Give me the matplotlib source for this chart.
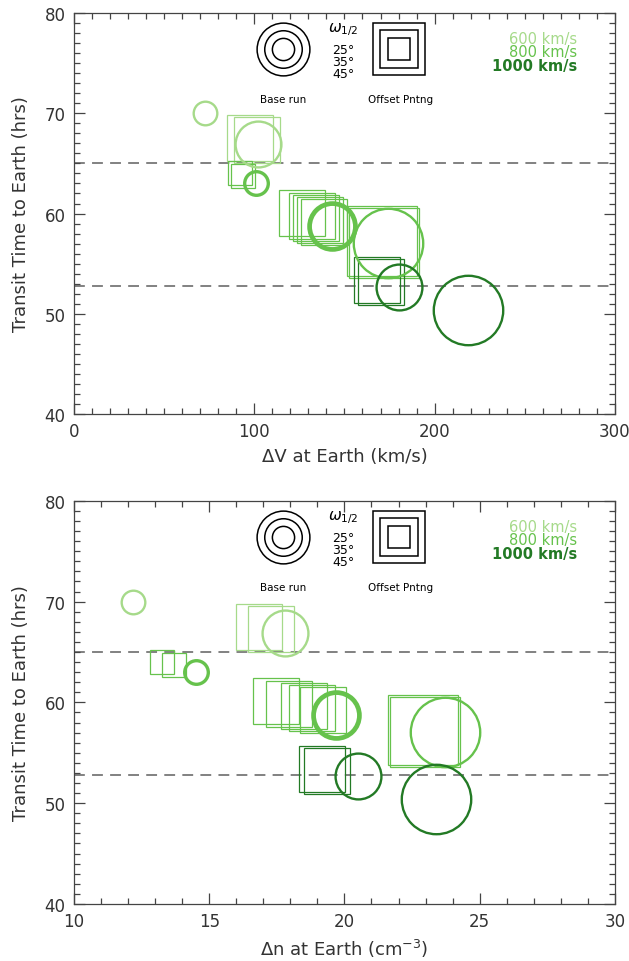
import numpy as np
import matplotlib
matplotlib.use("Agg")
import matplotlib.pyplot as plt
from matplotlib.ticker import MultipleLocator

plt.rcParams['font.family'] = ['DejaVu Sans']

# base runs (circles)
base_speed = [600, 600, 800, 800, 800, 1000, 1000]
base_omega = [25, 35, 25, 35, 45, 35, 45]
base_dv = [72.7, 102.0, 101.0, 143.0, 174.0, 180.0, 218.5]
base_dn = [12.2, 17.8, 14.5, 19.7, 23.7, 20.5, 23.4]
base_tt = [70.0, 66.9, 63.0, 58.8, 57.1, 52.7, 50.4]

# offset pointing runs (squares)
off_speed = [600, 600, 800, 800, 800, 800, 800, 800, 800, 800, 800, 1000, 1000]
off_omega = [35, 35, 25, 25, 35, 35, 35, 35, 35, 45, 45, 35, 35]
off_dv = [97.8, 101.5, 92.0, 94.0, 126.5, 131.8, 134.1, 136.4, 138.7, 170.8, 172.0, 168.0, 170.0]
off_dn = [16.83, 17.28, 13.26, 13.7, 17.46, 17.96, 18.5, 18.8, 19.2, 22.89, 22.98, 19.17, 19.35]
off_tt = [67.5, 67.3, 64.0, 63.7, 60.1, 59.8, 59.6, 59.4, 59.2, 57.3, 57.1, 53.4, 53.2]

ref_times = [65.0, 52.8]
speed_labels = ['600 km/s', '800 km/s', '1000 km/s']
omega_labels = ['25°', '35°', '45°']

colors = {600: '#a6da8a', 800: '#66c24c', 1000: '#237a25'}
msize = {25: 17, 35: 33, 45: 50}
txt_col = '#333333'

fig = plt.figure(figsize=(6.29, 9.62), dpi=100)
ax1 = fig.add_axes([0.1176, 0.5686, 0.860, 0.4168])
ax2 = fig.add_axes([0.1176, 0.0593, 0.860, 0.419])


def draw_panel(ax, xb, xo):
    for t in ref_times:
        ax.axhline(t, color='#777777', lw=1.3, ls=(0, (6, 4)), zorder=1)
    for x, t, s, w in zip(xo, off_tt, off_speed, off_omega):
        ax.plot(x, t, marker='s', ms=msize[w], mfc='none', mec=colors[s], mew=0.9, zorder=2)
    for x, t, s, w in zip(xb, base_tt, base_speed, base_omega):
        mew = 1.7
        if s == 800 and w == 35:
            mew = 3.4
        elif s == 800 and w == 25:
            mew = 2.4
        ax.plot(x, t, marker='o', ms=msize[w], mfc='none', mec=colors[s], mew=mew, zorder=3)

    ax.set_ylim(40, 80)
    ax.yaxis.set_major_locator(MultipleLocator(10))
    ax.yaxis.set_minor_locator(MultipleLocator(1))
    ax.tick_params(which='both', direction='in', top=True, right=True, colors='#444444',
                   labelcolor=txt_col, labelsize=12, width=0.9)
    ax.tick_params(which='major', length=8, pad=6)
    ax.tick_params(which='minor', length=4)
    for sp in ax.spines.values():
        sp.set_color('#444444')
        sp.set_linewidth(0.9)
    ax.set_ylabel('Transit Time to Earth (hrs)', fontsize=13, color=txt_col)
    ax.yaxis.set_label_coords(-0.082, 0.5)

    # legend: size key
    tr = ax.transAxes
    for ms in [38, 27, 16]:
        ax.plot(0.386, 0.910, marker='o', ms=ms, mfc='none', mec='black', mew=1.1,
                transform=tr, clip_on=False)
        ax.plot(0.601, 0.910, marker='s', ms=ms, mfc='none', mec='black', mew=1.1,
                transform=tr, clip_on=False)
    ax.text(0.498, 0.962, r'$\omega_{1/2}$', transform=tr, ha='center', va='center',
            fontsize=11)
    for lbl, fy in zip(omega_labels, [0.910, 0.880, 0.850]):
        ax.text(0.498, fy, lbl, transform=tr, ha='center', va='center', fontsize=9)
    ax.text(0.386, 0.786, 'Base run', transform=tr, ha='center', va='center', fontsize=7.5)
    ax.text(0.603, 0.786, 'Offset Pntng', transform=tr, ha='center', va='center', fontsize=7.5)
    for lbl, s, fy in zip(speed_labels, [600, 800, 1000], [0.937, 0.903, 0.869]):
        ax.text(0.930, fy, lbl, transform=tr, ha='right', va='center', fontsize=10.5,
                color=colors[s], fontweight='bold' if s == 1000 else 'normal')


draw_panel(ax1, base_dv, off_dv)
ax1.set_xlim(0, 300)
ax1.xaxis.set_major_locator(MultipleLocator(100))
ax1.xaxis.set_minor_locator(MultipleLocator(10))
ax1.set_xlabel('ΔV at Earth (km/s)', fontsize=13, color=txt_col, labelpad=5)

draw_panel(ax2, base_dn, off_dn)
ax2.set_xlim(10, 30)
ax2.xaxis.set_major_locator(MultipleLocator(5))
ax2.xaxis.set_minor_locator(MultipleLocator(1))
ax2.set_xlabel('Δn at Earth (cm$^{-3}$)', fontsize=13, color=txt_col, labelpad=5)

fig.savefig('out.png', dpi=100)
